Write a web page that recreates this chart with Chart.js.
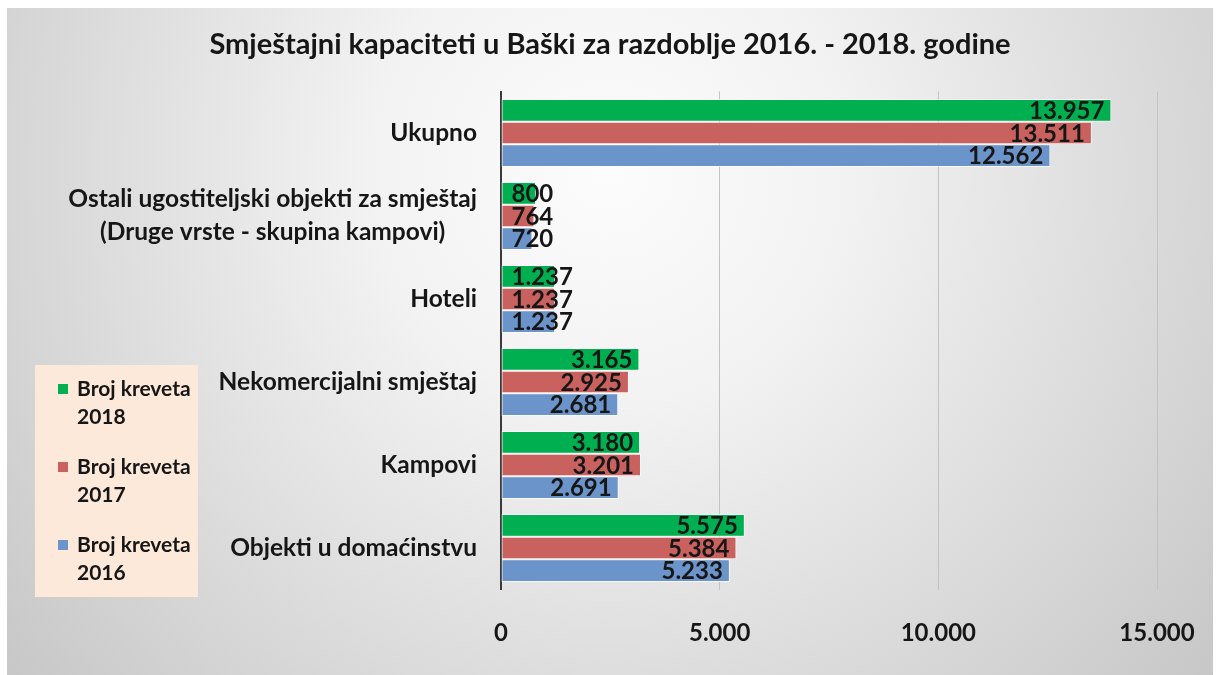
<!DOCTYPE html>
<html>
<head>
<meta charset="utf-8">
<script src="https://cdn.jsdelivr.net/npm/chart.js@4.4.1/dist/chart.umd.min.js"></script>
<style>
  html, body { margin: 0; padding: 0; background: #ffffff; }
  #wrap { width: 1216px; height: 675px; position: relative; }
</style>
</head>
<body>
<div id="wrap"><canvas id="chart"></canvas></div>
<script>
// Accommodation capacity (number of beds) in Baška, 2016 - 2018
const chartTitle = 'Smještajni kapaciteti u Baški za razdoblje 2016. - 2018. godine';
const categories = [
  'Ukupno',
  ['Ostali ugostiteljski objekti za smještaj', '(Druge vrste - skupina kampovi)'],
  'Hoteli',
  'Nekomercijalni smještaj',
  'Kampovi',
  'Objekti u domaćinstvu'
];
const beds2018 = [13957, 800, 1237, 3165, 3180, 5575];
const beds2017 = [13511, 764, 1237, 2925, 3201, 5384];
const beds2016 = [12562, 720, 1237, 2681, 2691, 5233];
const seriesLabels = ['Broj kreveta 2018', 'Broj kreveta 2017', 'Broj kreveta 2016'];
const xTicks = [0, 5000, 10000, 15000];

const FONT = 'Lato, "Open Sans", "DejaVu Sans", sans-serif';
const TEXT = '#161616';

// thousands separator as a dot
function fmt(v) {
  return String(v).replace(/\B(?=(\d{3})+(?!\d))/g, '.');
}

// grey panel with a soft radial light behind the chart, plus the heading
const panelBackground = {
  id: 'panelBackground',
  beforeDraw(chart) {
    const ctx = chart.ctx;
    ctx.save();
    ctx.fillStyle = '#ffffff';
    ctx.fillRect(0, 0, chart.width, chart.height);
    const g = ctx.createRadialGradient(608, 170, 0, 608, 170, 800);
    g.addColorStop(0, '#fcfcfc');
    g.addColorStop(0.3, '#f2f2f2');
    g.addColorStop(0.65, '#dcdcdc');
    g.addColorStop(1, '#c6c6c6');
    ctx.fillStyle = g;
    ctx.fillRect(7, 8, 1206, chart.height - 8);

    ctx.font = 'bold 29px ' + FONT;
    ctx.fillStyle = TEXT;
    ctx.textAlign = 'center';
    ctx.textBaseline = 'middle';
    ctx.fillText(chartTitle, 610, 45);
    ctx.restore();
  }
};

// category names on the left, right-aligned block with centred lines
const categoryLabels = {
  id: 'categoryLabels',
  afterDraw(chart) {
    const ctx = chart.ctx;
    const y = chart.scales.y;
    const right = chart.chartArea.left - 24;
    ctx.save();
    ctx.font = 'bold 24.5px ' + FONT;
    ctx.fillStyle = TEXT;
    ctx.textBaseline = 'middle';
    ctx.textAlign = 'center';
    chart.data.labels.forEach((lab, i) => {
      const lines = Array.isArray(lab) ? lab : [lab];
      const cy = y.getPixelForValue(i);
      const lh = 33;
      const maxW = Math.max(...lines.map(l => ctx.measureText(l).width));
      const cx = right - maxW / 2;
      lines.forEach((l, k) => {
        ctx.fillText(l, cx, cy + (k - (lines.length - 1) / 2) * lh);
      });
    });
    ctx.restore();
  }
};

// value labels at the inner end of each bar
const valueLabels = {
  id: 'valueLabels',
  afterDatasetsDraw(chart) {
    const ctx = chart.ctx;
    ctx.save();
    ctx.font = 'bold 24px ' + FONT;
    ctx.fillStyle = TEXT;
    ctx.textAlign = 'right';
    ctx.textBaseline = 'middle';
    chart.data.datasets.forEach((ds, di) => {
      const meta = chart.getDatasetMeta(di);
      meta.data.forEach((bar, i) => {
        const txt = fmt(ds.data[i]);
        const w = ctx.measureText(txt).width;
        const x = Math.max(bar.x - 7, bar.base + 10 + w);
        ctx.fillText(txt, x, bar.y + 1);
      });
    });
    ctx.restore();
  }
};

// legend in a peach box at the lower left
const sideLegend = {
  id: 'sideLegend',
  afterDraw(chart) {
    const ctx = chart.ctx;
    ctx.save();
    ctx.fillStyle = '#fce9da';
    ctx.fillRect(35, 365, 163, 232);
    ctx.font = 'bold 21px ' + FONT;
    ctx.textBaseline = 'middle';
    ctx.textAlign = 'left';
    chart.data.datasets.forEach((ds, i) => {
      const y0 = 389 + i * 78;
      const cut = ds.label.lastIndexOf(' ');
      ctx.fillStyle = ds.backgroundColor;
      ctx.fillRect(58, y0 - 5, 10, 10);
      ctx.fillStyle = TEXT;
      ctx.fillText(ds.label.slice(0, cut), 77, y0);
      ctx.fillText(ds.label.slice(cut + 1), 77, y0 + 28);
    });
    ctx.restore();
  }
};

new Chart(document.getElementById('chart'), {
  type: 'bar',
  data: {
    labels: categories,
    datasets: [
      { label: seriesLabels[0], data: beds2018, backgroundColor: '#00b050' },
      { label: seriesLabels[1], data: beds2017, backgroundColor: '#c9625f' },
      { label: seriesLabels[2], data: beds2016, backgroundColor: '#6b94cb' }
    ]
  },
  options: {
    indexAxis: 'y',
    responsive: true,
    maintainAspectRatio: false,
    animation: false,
    layout: { padding: { left: 0, right: 59, top: 91.5, bottom: 0 } },
    datasets: {
      bar: {
        categoryPercentage: 0.82,
        barPercentage: 1,
        borderWidth: 1,
        borderColor: 'rgba(255,255,255,0.75)',
        borderSkipped: false
      }
    },
    plugins: {
      legend: { display: false },
      tooltip: { enabled: false },
      title: { display: false }
    },
    scales: {
      x: {
        min: 0,
        max: 15000,
        afterBuildTicks(s) { s.ticks = xTicks.map(v => ({ value: v })); },
        afterFit(s) { s.height = 85.5; s.paddingLeft = 0; s.paddingRight = 0; },
        grid: { color: '#c2c2c2', lineWidth: 1, drawTicks: false },
        border: { display: false },
        ticks: {
          padding: 29,
          color: TEXT,
          font: { family: FONT, size: 24, weight: 'bold' },
          callback: v => fmt(v)
        }
      },
      y: {
        afterFit(s) { s.width = 501; },
        grid: { display: false, drawTicks: false },
        border: { display: true, color: '#3a3a3a', width: 2 },
        ticks: { display: false }
      }
    }
  },
  plugins: [panelBackground, categoryLabels, valueLabels, sideLegend]
});
</script>
</body>
</html>
